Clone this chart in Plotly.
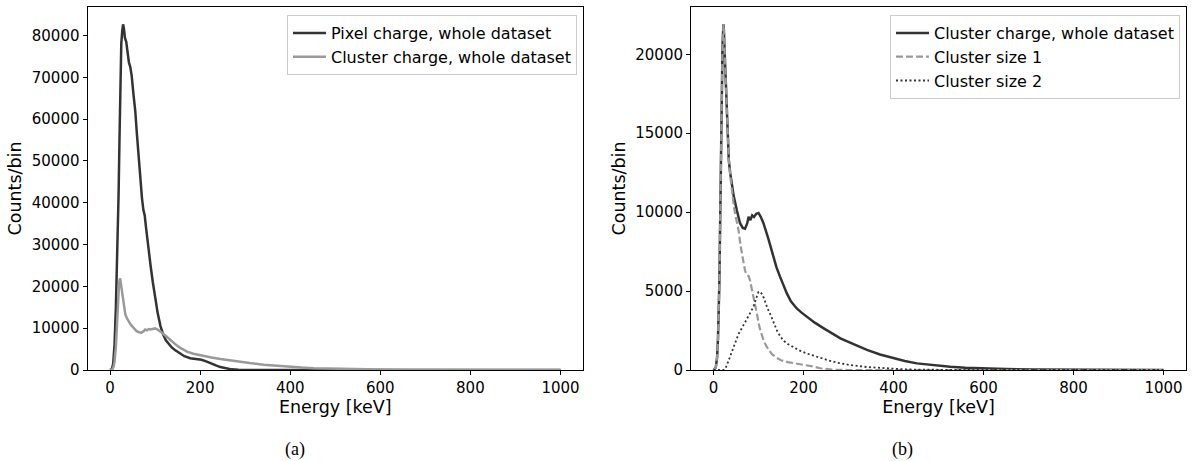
import plotly.graph_objects as go
from plotly.subplots import make_subplots

# ---- data ----
pixel_energy = [0, 4, 7, 10, 13, 15, 17, 19, 21, 23, 25, 27, 29, 31, 33, 36, 40, 42, 45, 48,
                52, 56, 60, 64, 67, 71, 74, 77, 80, 83, 86, 90, 95, 100, 106, 112, 118, 124, 130, 137,
                145, 155, 165, 178, 190, 203, 215, 225, 235, 245, 258, 270, 285, 300, 320, 1000]
pixel_counts = [0, 200, 1500, 6000, 15000, 23000, 33000, 42000, 55000, 70000, 78000, 81000, 82700, 81500, 79500, 78500, 75000, 73500, 72500, 70500,
                66000, 62000, 56000, 50000, 46000, 41000, 38300, 37000, 34000, 31000, 28000, 25000, 21000, 17200, 13500, 10500, 8500, 7100, 6200, 5400,
                4700, 3900, 3300, 2800, 2600, 2450, 2000, 1500, 1100, 700, 400, 150, 40, 10, 0, 0]

cluster_energy = [0, 5, 8, 10, 13, 15, 17, 19, 20, 22, 23, 25, 28, 31, 34, 37, 41, 45, 52, 59,
                  65, 70, 75, 78, 82, 86, 90, 95, 100, 105, 111, 117, 122, 128, 133, 140, 148, 155, 163, 172,
                  185, 195, 207, 225, 245, 265, 282, 310, 341, 370, 400, 425, 452, 490, 526, 560, 600, 650, 711, 800,
                  900, 1000]
cluster_counts = [0, 150, 800, 2000, 5500, 10000, 15500, 19000, 20500, 21900, 21600, 20000, 17500, 15000, 13300, 12500, 11700, 11000, 10100, 9300,
                  9000, 8950, 9300, 9700, 9500, 9800, 9700, 9900, 9950, 9700, 9300, 8800, 8300, 7700, 7170, 6500, 5900, 5350, 4850, 4350,
                  3900, 3650, 3380, 3000, 2640, 2300, 2000, 1650, 1270, 980, 740, 570, 420, 300, 210, 150, 100, 60, 30, 12,
                  5, 0]

size1_energy = [0, 5, 8, 10, 13, 15, 17, 19, 20, 22, 23, 25, 28, 31, 34, 37, 41, 45, 48, 52,
                56, 60, 63, 67, 70, 74, 78, 81, 85, 89, 93, 97, 100, 104, 110, 115, 122, 130, 140, 150,
                165, 180, 195, 207, 222, 237, 255, 270, 300, 1000]
size1_counts = [0, 150, 800, 2000, 5500, 10000, 15500, 19000, 20500, 21900, 21600, 20000, 17500, 15000, 13300, 12400, 11300, 10400, 9900, 9400,
                8800, 7900, 7400, 6800, 6300, 6000, 5950, 5700, 5200, 4600, 4000, 3500, 3000, 2500, 2000, 1650, 1300, 1000, 780, 620,
                500, 420, 370, 320, 220, 110, 40, 10, 0, 0]

size2_energy = [0, 22, 26, 30, 35, 40, 45, 50, 56, 62, 68, 74, 80, 85, 89, 93, 97, 100, 104, 108,
                112, 116, 120, 126, 133, 141, 148, 156, 165, 178, 190, 207, 225, 252, 275, 304, 340, 378, 420, 452,
                500, 600, 1000]
size2_counts = [0, 0, 50, 300, 700, 1100, 1500, 1900, 2300, 2600, 2900, 3200, 3500, 3800, 4050, 4400, 4800, 4950, 4950, 4800,
                4550, 4200, 3900, 3550, 3000, 2500, 2150, 1850, 1650, 1450, 1250, 1050, 870, 640, 460, 310, 190, 110, 50, 20,
                8, 0, 0]

x_ticks = [0, 200, 400, 600, 800, 1000]
y_ticks_a = [0, 10000, 20000, 30000, 40000, 50000, 60000, 70000, 80000]
y_ticks_b = [0, 5000, 10000, 15000, 20000]

DARK = "#333333"
GRAY = "#999999"
FONT = "DejaVu Sans"

fig = make_subplots(rows=1, cols=2)

fig.add_trace(go.Scatter(x=pixel_energy, y=pixel_counts, mode="lines",
                         line=dict(color=DARK, width=2.5),
                         name="Pixel charge, whole dataset", legend="legend"), row=1, col=1)
fig.add_trace(go.Scatter(x=cluster_energy, y=cluster_counts, mode="lines",
                         line=dict(color=GRAY, width=2.5),
                         name="Cluster charge, whole dataset", legend="legend"), row=1, col=1)

fig.add_trace(go.Scatter(x=cluster_energy, y=cluster_counts, mode="lines",
                         line=dict(color=DARK, width=2.5),
                         name="Cluster charge, whole dataset", legend="legend2"), row=1, col=2)
fig.add_trace(go.Scatter(x=size1_energy, y=size1_counts, mode="lines",
                         line=dict(color=GRAY, width=2.2, dash="7px,3px"),
                         name="Cluster size 1", legend="legend2"), row=1, col=2)
fig.add_trace(go.Scatter(x=size2_energy, y=size2_counts, mode="lines",
                         line=dict(color=DARK, width=1.8, dash="2px,2.5px"),
                         name="Cluster size 2", legend="legend2"), row=1, col=2)

W, H = 1194, 461
ax_common = dict(showline=True, linecolor="black", linewidth=1, mirror=True,
                 ticks="outside", ticklen=4, tickwidth=1, tickcolor="black",
                 showgrid=False, zeroline=False, automargin=False,
                 tickfont=dict(family=FONT, size=15, color="black"))

fig.update_xaxes(**ax_common, range=[-50, 1050], tickvals=x_ticks,
                 title=dict(text="Energy [keV]", font=dict(family=FONT, size=17.5, color="black"), standoff=4))
fig.update_yaxes(**ax_common, tickformat="d",
                 title=dict(text="Counts/bin", font=dict(family=FONT, size=17.5, color="black"), standoff=5))

fig.update_layout(
    xaxis=dict(domain=[87.5 / W, 583 / W]),
    xaxis2=dict(domain=[691 / W, 1186 / W]),
    yaxis=dict(domain=[1 - 370 / H, 1 - 7 / H], range=[0, 86835], tickvals=y_ticks_a),
    yaxis2=dict(domain=[1 - 370 / H, 1 - 7 / H], range=[0, 22995], tickvals=y_ticks_b),
)

legend_style = dict(bgcolor="rgba(255,255,255,0.8)", bordercolor="#cccccc", borderwidth=1,
                    font=dict(family=FONT, size=16, color="black"),
                    xanchor="right", yanchor="top", itemwidth=33, tracegroupgap=0)
fig.update_layout(
    legend=dict(**legend_style, x=577 / W, y=1 - 15 / H),
    legend2=dict(**legend_style, x=1180 / W, y=1 - 15 / H),
)

fig.add_annotation(text="(a)", x=295 / W, y=1 - 449 / H, xref="paper", yref="paper",
                   xanchor="center", yanchor="middle",
                   showarrow=False, font=dict(family="Liberation Serif", size=18, color="black"))
fig.add_annotation(text="(b)", x=902 / W, y=1 - 449 / H, xref="paper", yref="paper",
                   xanchor="center", yanchor="middle",
                   showarrow=False, font=dict(family="Liberation Serif", size=18, color="black"))

fig.update_layout(width=W, height=H, margin=dict(l=0, r=0, t=0, b=0),
                  plot_bgcolor="white", paper_bgcolor="white",
                  font=dict(family=FONT, color="black"), template="none")

fig.write_html("out.html", config={"displayModeBar": False},
               post_script="document.body.style.margin='0';")
